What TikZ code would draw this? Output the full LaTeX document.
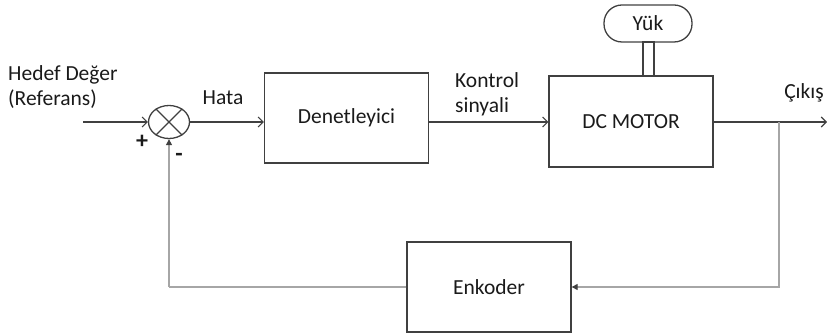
\documentclass[tikz,border=0pt]{standalone}
\usepackage{fontspec}
\setmainfont{Carlito}
\usetikzlibrary{shapes.geometric,arrows.meta}
\definecolor{ln}{HTML}{404040}
\definecolor{fb}{HTML}{A6A6A6}
\definecolor{tx}{HTML}{1A1A1A}
\begin{document}
\begin{tikzpicture}[x=1pt,y=-1pt, font=\fontsize{21.5}{25}\selectfont, text=tx,
 blk/.style={draw=ln, line width=1.3pt, minimum width=164pt, minimum height=90pt, inner sep=0},
 lbl/.style={inner sep=0, align=left},
 sig/.style={draw=ln, line width=1.1pt, -{Straight Barb[length=5pt,width=10pt]}},
 fbl/.style={draw=fb, line width=1.1pt},
 fbarrow/.style={fbl, -{Triangle[length=6pt,width=6pt,color=ln]}},
 sgn/.style={inner sep=0, font=\bfseries\fontsize{24}{26}\selectfont}]
\useasboundingbox (0,0) rectangle (827,336);

% blocks
\node[draw=ln, line width=1.3pt, ellipse, minimum width=41pt, minimum height=33pt, inner sep=0] (sum) at (169,122) {};
\draw[ln, line width=1.1pt] (sum.45) -- (sum.225) (sum.135) -- (sum.315);
\node[blk] (ctrl) at (346.5,118) {\raisebox{-4pt}{Denetleyici}};
\node[blk, minimum height=91pt] (motor) at (631,121.5) {DC MOTOR};
\node[blk] (enc) at (489,287) {Enkoder};
\node[draw=ln, line width=1.3pt, rounded corners=18pt, minimum width=88pt, minimum height=37pt, inner sep=0] (load) at (648,23.5) {Yük};
\node[draw=ln, line width=1.3pt, fill=white, minimum width=11pt, minimum height=34pt, inner sep=0] (shaft) at (648.5,59) {};

% labels
\node[lbl, anchor=west] (ref) at (8,87.5) {Hedef Değer\\(Referans)};
\node[lbl] (hata) at (223,98) {Hata};
\node[lbl, anchor=west] (kont) at (455,94.5) {Kontrol\\sinyali};
\node[lbl] (cikis) at (804,93) {Çıkış};
\node[sgn] (plus) at (142,142) {+};
\node[sgn] (minus) at (179,157) {-};

% coordinates
\coordinate (in) at (83,122);
\coordinate (out) at (827,122);
\coordinate (br) at (779,122);

% signals
\draw[sig] (in) -- (sum.west);
\draw[sig] (sum.east) -- (ctrl.west |- sum.east);
\draw[sig] (ctrl.east |- sum.east) -- (motor.west |- sum.east);
\draw[sig] (motor.east |- sum.east) -- (out);
\draw[fbarrow] (br) -- (br |- enc.east) -- (enc.east);
\draw[fbl] (enc.west) -- (sum.south |- enc.west);
\draw[fbarrow] (sum.south |- enc.west) -- (sum.south);
\end{tikzpicture}
\end{document}
